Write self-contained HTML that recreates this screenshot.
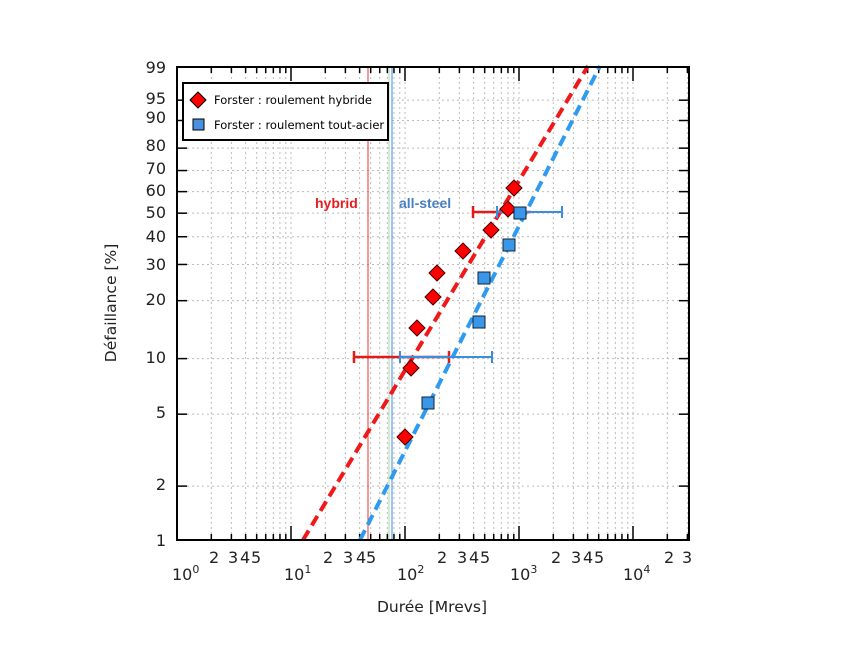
<!DOCTYPE html>
<html><head><meta charset="utf-8"><style>
body{margin:0;background:#fff;}
svg text{font-family:"DejaVu Sans","Liberation Sans",sans-serif;}
</style></head><body>
<svg id="s" width="850" height="650" viewBox="0 0 850 650" xmlns="http://www.w3.org/2000/svg">
<rect width="850" height="650" fill="#fff"/>
<g id="grid"></g>
<g id="ticks"></g>
<line x1="368" y1="67" x2="368" y2="540" stroke="#e33" stroke-width="1"/>
<line x1="389" y1="67" x2="389" y2="540" stroke="#7b7" stroke-width="0.6"/>
<line x1="392" y1="67" x2="392" y2="540" stroke="#3a8ee0" stroke-width="1"/>
<line x1="303" y1="540" x2="588" y2="66" stroke="#f01818" stroke-width="4" stroke-dasharray="11,6"/>
<line x1="360" y1="540" x2="600" y2="66" stroke="#2e9af0" stroke-width="4" stroke-dasharray="11,6"/>
<g stroke="#e41a1a" stroke-width="2.5">
<line x1="354" y1="357" x2="449" y2="357"/><line x1="354" y1="351" x2="354" y2="363"/><line x1="449" y1="351" x2="449" y2="363"/>
<line x1="473" y1="212" x2="531" y2="212"/><line x1="473" y1="206" x2="473" y2="218"/>
</g>
<g stroke="#3a8ee0" stroke-width="2">
<line x1="400" y1="357" x2="492" y2="357"/><line x1="400" y1="351" x2="400" y2="363"/><line x1="492" y1="351" x2="492" y2="363"/>
<line x1="497" y1="212" x2="562" y2="212"/><line x1="497" y1="206" x2="497" y2="218"/><line x1="562" y1="206" x2="562" y2="218"/>
</g>
<g id="mk"></g>
<text x="315" y="208" fill="#e81c1c" font-size="14" font-weight="bold" style="font-family:'Liberation Sans',sans-serif">hybrid</text>
<text x="399" y="208" fill="#4a7ec0" font-size="14" font-weight="bold" style="font-family:'Liberation Sans',sans-serif">all-steel</text>
<rect x="177" y="67" width="512" height="473" fill="none" stroke="#000" stroke-width="2"/>
<rect x="183" y="83" width="205" height="57" fill="#fff" stroke="#000" stroke-width="2"/>
<path d="M198 92 L206 100 L198 108 L190 100 Z" fill="#f00" stroke="#000" stroke-width="1"/>
<rect x="193" y="119" width="11" height="11" fill="#4a90e0" stroke="#000" stroke-width="1"/>
<text x="214" y="104" font-size="11.5">Forster : roulement hybride</text>
<text x="214" y="129" font-size="11.5">Forster : roulement tout-acier</text>
<g font-size="16" fill="#222" text-anchor="end">
<text x="166" y="73">99</text><text x="166" y="104">95</text><text x="166" y="123">90</text>
<text x="166" y="151">80</text><text x="166" y="174">70</text><text x="166" y="196">60</text>
<text x="166" y="218">50</text><text x="166" y="242">40</text><text x="166" y="270">30</text>
<text x="166" y="305">20</text><text x="166" y="363">10</text><text x="166" y="418">5</text>
<text x="166" y="490">2</text><text x="166" y="546">1</text>
</g>
<g font-size="16" fill="#222">
<text x="209" y="563">2</text><text x="228" y="563">3</text><text x="240" y="563">4</text><text x="251" y="563">5</text>
<text x="323" y="563">2</text><text x="343" y="563">3</text><text x="356" y="563">4</text><text x="366" y="563">5</text>
<text x="437" y="563">2</text><text x="457" y="563">3</text><text x="469" y="563">4</text><text x="480" y="563">5</text>
<text x="551" y="563">2</text><text x="571" y="563">3</text><text x="583" y="563">4</text><text x="594" y="563">5</text>
<text x="664" y="563">2</text><text x="682" y="563">3</text>
<text x="172" y="580">10<tspan dy="-7" font-size="11">0</tspan></text>
<text x="284" y="580">10<tspan dy="-7" font-size="11">1</tspan></text>
<text x="397" y="580">10<tspan dy="-7" font-size="11">2</tspan></text>
<text x="510" y="580">10<tspan dy="-7" font-size="11">3</tspan></text>
<text x="623" y="580">10<tspan dy="-7" font-size="11">4</tspan></text>
</g>
<text x="432" y="612" font-size="15.5" text-anchor="middle" fill="#222">Durée [Mrevs]</text>
<text transform="translate(116,303) rotate(-90)" font-size="15.5" text-anchor="middle" fill="#222">Défaillance [%]</text>
</svg>
<script>
var NS="http://www.w3.org/2000/svg";
function el(p,t,a){var e=document.createElementNS(NS,t);for(var k in a)e.setAttribute(k,a[k]);p.appendChild(e);return e;}
var g=document.getElementById('grid'),tk=document.getElementById('ticks'),mk=document.getElementById('mk');
function X(v){return 177+114*Math.log10(v);}
function Y(F){return 540-77.2*(Math.log(-Math.log(1-F/100))+4.6);}
for(var d=0;d<5;d++)for(var k=1;k<10;k++){var x=X(k*Math.pow(10,d));if(x>689)break;
 if(x>178)el(g,'line',{x1:x,y1:67,x2:x,y2:540,stroke:'#bbb','stroke-width':1,'stroke-dasharray':'2,3'});
 var L=k==1?14:6;
 el(tk,'line',{x1:x,y1:540,x2:x,y2:540-L,stroke:'#000','stroke-width':1.5});
 el(tk,'line',{x1:x,y1:67,x2:x,y2:67+L,stroke:'#000','stroke-width':1.5});}
[1,2,5,10,20,30,40,50,60,70,80,90,95,99].forEach(function(F){var y=Y(F);
 el(g,'line',{x1:177,y1:y,x2:689,y2:y,stroke:'#bbb','stroke-width':1,'stroke-dasharray':'2,3'});
 el(tk,'line',{x1:177,y1:y,x2:187,y2:y,stroke:'#000','stroke-width':1.5});
 el(tk,'line',{x1:679,y1:y,x2:689,y2:y,stroke:'#000','stroke-width':1.5});});
[[514,188],[508,209],[491,230],[463,251],[437,273],[433,297],[417,328],[411,368],[405,437]].forEach(function(p){
 el(mk,'path',{d:'M'+p[0]+' '+(p[1]-8)+' L'+(p[0]+8)+' '+p[1]+' L'+p[0]+' '+(p[1]+8)+' L'+(p[0]-8)+' '+p[1]+' Z',fill:'#f00',stroke:'#400','stroke-width':1});});
[[520,213],[509,245],[484,278],[479,322],[428,403]].forEach(function(p){
 el(mk,'rect',{x:p[0]-6,y:p[1]-6,width:12,height:12,fill:'#3a96e8',stroke:'#123','stroke-width':1});});
</script>
</body></html>
